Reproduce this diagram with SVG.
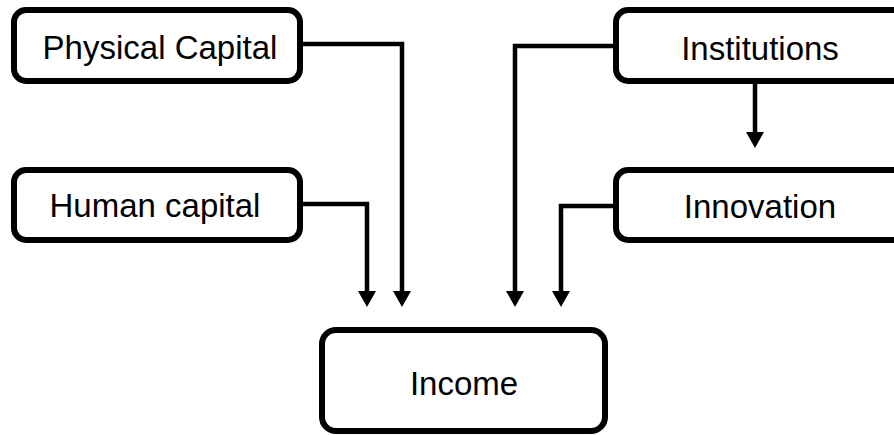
<svg xmlns="http://www.w3.org/2000/svg" width="894" height="435" viewBox="0 0 894 435">
<defs>
<style>
.box{fill:#fff;stroke:#000;stroke-width:6}
.lbl{font-family:"Liberation Sans",Arial,sans-serif;font-size:33px;fill:#000;text-anchor:middle}
.con{fill:none;stroke:#000;stroke-width:4.5}
</style>
</defs>
<rect width="894" height="435" fill="#fff"/>
<g id="connectors">
<path class="con" d="M300,44 H402 V292"/>
<path class="con" d="M300,204 H367 V292"/>
<path class="con" d="M616,46 H515 V292"/>
<path class="con" d="M616,206 H561 V292"/>
<path class="con" d="M755,82 V133"/>
<path d="M393,291 L411,291 L402,307 Z"/>
<path d="M358,291 L376,291 L367,307 Z"/>
<path d="M506,291 L524,291 L515,307 Z"/>
<path d="M552,291 L570,291 L561,307 Z"/>
<path d="M746,132 L764,132 L755,148 Z"/>
</g>
<g id="physical">
<rect class="box" x="14" y="10" width="286" height="71" rx="12"/>
<text class="lbl" x="160" y="59">Physical Capital</text>
</g>
<g id="human">
<rect class="box" x="14" y="170" width="286" height="70" rx="12"/>
<text class="lbl" x="155" y="217">Human capital</text>
</g>
<g id="institutions">
<rect class="box" x="616" y="10" width="300" height="71" rx="12"/>
<text class="lbl" x="760" y="60">Institutions</text>
</g>
<g id="innovation">
<rect class="box" x="616" y="170" width="300" height="70" rx="12"/>
<text class="lbl" x="760" y="218">Innovation</text>
</g>
<g id="income">
<rect class="box" x="322" y="330" width="283" height="101" rx="14"/>
<text class="lbl" x="464" y="395">Income</text>
</g>
</svg>
